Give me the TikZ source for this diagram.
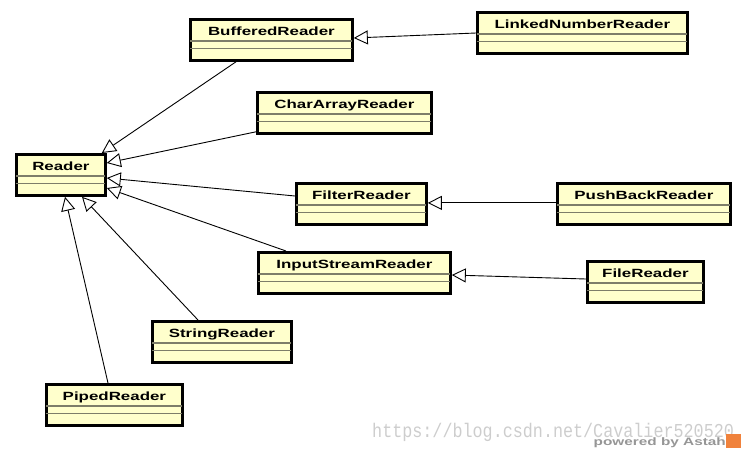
\documentclass[tikz,border=0pt]{standalone}
\usepackage{fontspec}
\usetikzlibrary{arrows.meta,positioning}
\newfontfamily\classfont[FakeStretch=1.42]{Liberation Sans}
\newfontfamily\urlfont[FakeStretch=0.85]{Liberation Mono}
\definecolor{classfill}{RGB}{255,255,204}
\definecolor{dividergray}{RGB}{125,125,105}
\definecolor{watergray}{RGB}{205,205,205}
\definecolor{astahgray}{RGB}{150,150,150}
\definecolor{astahorange}{RGB}{240,130,60}

\begin{document}
\begin{tikzpicture}[
    x=1pt, y=-1pt,
    classbox/.style={rectangle, draw=black, line width=2.8pt, fill=classfill, inner sep=0pt,
        anchor=north west, minimum height=41pt, text height=16.5pt, text depth=24.5pt,
        font=\classfont\bfseries\fontsize{11.9}{12}\selectfont},
    divider/.style={draw=dividergray, line width=1.1pt},
    inherit/.style={draw=black, line width=0.9pt,
        -{Triangle[length=14pt, width=14pt, fill=white, line width=0.9pt]}},
    watermark/.style={text=watergray, inner sep=0pt, font=\urlfont\fontsize{19.7}{20}\selectfont},
    powered/.style={text=astahgray, inner sep=0pt, font=\classfont\bfseries\fontsize{10.8}{11}\selectfont}
]
    \useasboundingbox (0,0) rectangle (741,450);

    % classes
    \node[classbox, minimum width=162pt] (br) at (189,18) {BufferedReader};
    \node[classbox, minimum width=210pt] (lnr) at (476,11) {LinkedNumberReader};
    \node[classbox, minimum width=174pt] (car) at (256,91) {CharArrayReader};
    \node[classbox, minimum width=89pt] (rd) at (15,153) {Reader};
    \node[classbox, minimum width=130pt] (fr) at (295,182) {FilterReader};
    \node[classbox, minimum width=173pt] (pbr) at (556,182) {PushBackReader};
    \node[classbox, minimum width=192pt] (isr) at (257,251) {InputStreamReader};
    \node[classbox, minimum width=116pt] (flr) at (586,260) {FileReader};
    \node[classbox, minimum width=139pt] (sr) at (151,320) {StringReader};
    \node[classbox, minimum width=136pt] (pr) at (45,383) {PipedReader};

    % attribute and operation compartments
    \foreach \n in {br,lnr,car,rd,fr,pbr,isr,flr,sr,pr} {
        \draw[divider] ([xshift=1.4pt,yshift=-23pt]\n.north west) -- ([xshift=-1.4pt,yshift=-23pt]\n.north east);
        \draw[divider] ([xshift=1.4pt,yshift=-30.5pt]\n.north west) -- ([xshift=-1.4pt,yshift=-30.5pt]\n.north east);
    }

    % generalizations
    \draw[inherit] ([xshift=47pt]br.south west) -- ([xshift=-5pt]rd.north east);
    \draw[inherit] ([yshift=3pt]car.south west) -- ([yshift=-10pt]rd.north east);
    \draw[inherit] ([yshift=-14pt]fr.north west) -- ([yshift=-25pt]rd.north east);
    \draw[inherit] ([xshift=29pt]isr.north west) -- ([yshift=-35pt]rd.north east);
    \draw[inherit] ([xshift=47pt]sr.north west) -- ([xshift=67pt]rd.south west);
    \draw[inherit] ([xshift=63pt]pr.north west) -- ([xshift=50pt]rd.south west);
    \draw[inherit] ([yshift=-22pt]lnr.north west) -- ([yshift=-20pt]br.north east);
    \draw[inherit] ([yshift=1pt]pbr.west) -- ([yshift=1pt]fr.east);
    \draw[inherit] ([yshift=-19pt]flr.north west) -- ([yshift=-24pt]isr.north east);

    % watermark
    \node[watermark, anchor=base west] (url) at (372,437) {https://blog.csdn.net/Cavalier520520};
    \node[powered, anchor=base east] (astah) at (726,445) {powered by Astah};
    \node[fill=astahorange, inner sep=0pt, minimum width=15pt, minimum height=14pt, anchor=north west] (logo) at (726,434) {};
\end{tikzpicture}
\end{document}
